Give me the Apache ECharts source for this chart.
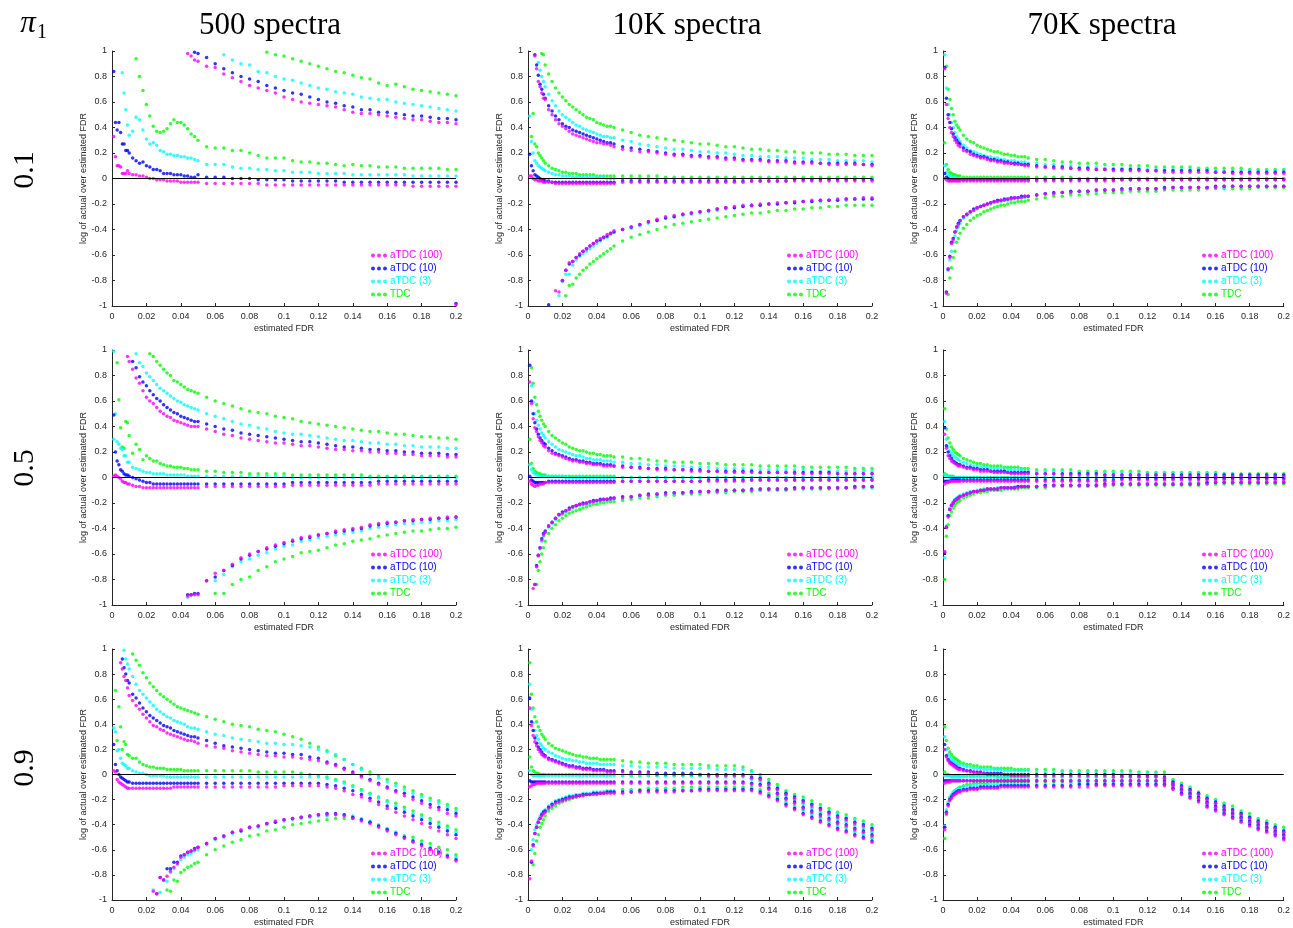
<!DOCTYPE html>
<html>
<head>
<meta charset="utf-8">
<title>log of actual over estimated FDR</title>
<script src="https://cdn.jsdelivr.net/npm/echarts@6/dist/echarts.min.js"></script>
<style>
  html, body { margin: 0; padding: 0; background: #fff; }
  #chart { width: 1293px; height: 928px; }
</style>
</head>
<body>
<div id="chart"></div>
<script>
const _ = null; // point outside the plotted range

// estimated FDR grid (thousandths)
const xGrid = [1,2,3,4,5,6,7,8,9,10,
  12,14,16,18,20,22,24,26,28,30,32,34,36,38,40,42,44,46,48,50,
  55,60,65,70,75,80,85,90,95,100,105,110,115,120,125,130,135,140,145,150,155,160,165,170,175,180,185,190,195,200];

// log of actual over estimated FDR (x100), per panel (row = pi1, col = spectra),
// per method (m = aTDC(100), b = aTDC(10), c = aTDC(3), g = TDC), per curve (hi / md / lo)

// ---- pi1 = 0.1, 500 spectra
const p11_m_hi = [_,_,_,_,_, _,_,_,_,_,  _,_,_,_,_, _,_,_,_,_, _,_,_,_,_, _,98,96,93,92,  88,87,82,79,76, 73,71,69,67,64, 62,60,59,58,57, 56,54,52,51,51, 50,49,48,47,46, 46,45,44,44,43];
const p11_m_md = [33,17,10,10,9, 4,4,4,6,4,  3,3,2,2,1, 0,0,-1,-1,-1, -2,-2,-2,-2,-3, -3,-3,-3,-3,-3,  -4,-4,-4,-4,-4, -4,-4,-5,-5,-5, -5,-5,-5,-5,-5, -5,-5,-5,-5,-5, -5,-5,-5,-5,-6, -6,-6,-6,-6,-6];
const p11_m_lo = [_,_,_,_,_, _,_,_,_,_,  _,_,_,_,_, _,_,_,_,_, _,_,_,_,_, _,_,_,_,_,  _,_,_,_,_, _,_,_,_,_, _,_,_,_,_, _,_,_,_,_, _,_,_,_,_, _,_,_,_,-99];
const p11_b_hi = [_,_,_,_,_, _,_,_,_,_,  _,_,_,_,_, _,_,_,_,_, _,_,_,_,_, _,_,_,99,98,  95,90,86,83,80, 78,76,73,71,69, 67,66,64,62,60, 59,57,56,54,54, 52,52,51,50,49, 49,48,47,47,46];
const p11_b_md = [84,44,38,44,36, 27,27,22,22,20,  16,14,12,13,10, 9,7,7,6,4, 4,4,3,3,3, 2,2,1,1,3,  1,1,1,0,0, 0,-1,-1,-1,-1, -2,-2,-2,-2,-2, -2,-3,-3,-3,-3, -3,-3,-3,-3,-3, -3,-3,-3,-3,-3];
const p11_b_lo = [_,_,_,_,_, _,_,_,_,_,  _,_,_,_,_, _,_,_,_,_, _,_,_,_,_, _,_,_,_,_,  _,_,_,_,_, _,_,_,_,_, _,_,_,_,_, _,_,_,_,_, _,_,_,_,_, _,_,_,_,-98];
const p11_c_hi = [_,_,_,_,_, 83,_,_,_,_,  _,_,_,_,_, _,_,_,_,_, _,_,_,_,_, _,_,_,_,_,  _,_,97,93,90, 89,84,83,80,78, 77,75,73,71,70, 68,67,66,64,63, 62,62,60,59,58, 57,56,55,54,53];
const p11_c_md = [_,_,_,_,_, _,67,54,42,34,  37,48,46,38,31, 27,28,26,22,21, 19,19,18,18,17, 17,16,16,15,14,  11,11,11,9,8, 8,7,7,6,6, 5,5,5,4,4, 4,4,3,3,3, 3,3,3,3,2, 2,2,2,2,2];
const p11_c_lo = [];
const p11_g_hi = [_,_,_,_,_, _,_,_,_,_,  _,_,_,_,_, _,_,_,_,_, _,_,_,_,_, _,_,_,_,_,  _,_,_,_,_, _,_,99,97,96, 94,92,90,88,86, 84,83,81,79,78, 75,73,74,72,70, 69,68,67,66,65];
const p11_g_md = [_,_,_,_,_, _,_,_,_,_,  _,94,80,69,58, 49,41,37,36,37, 39,43,46,44,44, 42,39,35,33,30,  25,24,24,22,22, 20,18,16,16,16, 14,13,13,12,12, 11,10,11,10,10, 9,9,9,8,8, 8,8,8,7,7];
const p11_g_lo = [];

// ---- pi1 = 0.1, 10K spectra
const p12_m_hi = [_,_,_,96,86, 76,72,67,63,62,  54,50,46,43,41, 39,37,35,34,33, 32,31,30,29,28, 28,27,27,26,25,  23,22,21,21,20, 19,18,18,17,17, 16,16,15,15,14, 14,14,13,13,13, 12,12,12,12,11, 11,11,11,11,10];
const p12_m_md = [2,2,0,-1,-1, -2,-2,-2,-3,-3,  -3,-3,-4,-4,-4, -4,-4,-4,-4,-4, -4,-4,-4,-4,-4, -4,-4,-4,-4,-4,  -3,-3,-3,-3,-3, -3,-3,-3,-3,-3, -3,-3,-3,-3,-3, -2,-2,-2,-2,-2, -2,-2,-2,-2,-2, -2,-2,-2,-2,-2];
const p12_m_lo = [_,_,_,_,_, _,_,_,_,_,  _,_,-88,-89,-80, -72,-66,-65,-62,-59, -57,-55,-53,-51,-49, -47,-46,-44,-43,-41,  -40,-38,-36,-34,-32, -30,-29,-28,-27,-26, -25,-24,-23,-22,-21, -21,-20,-20,-19,-19, -18,-18,-17,-17,-17, -16,-16,-16,-15,-15];
const p12_b_hi = [_,_,_,97,89, 81,74,70,66,63,  57,53,49,46,43, 41,40,38,37,36, 35,34,33,32,31, 30,29,28,28,27,  25,24,23,22,21, 20,19,19,18,18, 17,17,16,16,15, 15,15,14,14,14, 13,13,13,12,12, 12,12,12,11,11];
const p12_b_md = [19,10,6,3,2, 1,0,-1,-1,-2,  -2,-3,-3,-3,-3, -3,-3,-3,-3,-3, -3,-3,-3,-3,-3, -3,-3,-3,-3,-3,  -2,-2,-2,-2,-2, -2,-2,-2,-2,-2, -2,-2,-2,-2,-2, -2,-2,-2,-2,-2, -1,-1,-1,-1,-1, -1,-1,-1,-1,-1];
const p12_b_lo = [_,_,_,_,_, _,_,_,_,_,  -99,_,_,_,-80, -72,-67,-65,-62,-60, -57,-55,-53,-51,-49, -48,-46,-45,-43,-42,  -40,-38,-36,-34,-33, -31,-30,-28,-27,-26, -25,-24,-23,-23,-22, -21,-21,-20,-20,-19, -19,-18,-18,-17,-17, -17,-16,-16,-16,-16];
const p12_c_hi = [_,_,_,_,_, 91,85,80,76,72,  66,61,57,53,50, 48,46,44,42,41, 39,38,37,36,35, 34,33,33,32,32,  30,29,27,26,25, 24,23,23,22,21, 21,20,20,19,18, 18,17,17,17,16, 16,16,15,15,15, 14,14,14,14,13];
const p12_c_md = [49,29,20,14,12, 10,9,8,7,6,  5,4,3,3,2, 2,2,1,1,1, 1,1,1,1,1, 1,1,0,0,0,  0,0,0,0,0, 0,0,0,0,0, 0,0,0,0,0, 0,0,0,0,0, 0,0,0,0,0, 0,0,0,0,0];
const p12_c_lo = [_,_,_,_,_, _,_,_,_,_,  _,_,_,-92,-81, -75,-75,-68,-64,-61, -59,-57,-55,-53,-51, -49,-47,-46,-44,-42,  -40,-39,-37,-35,-33, -31,-30,-29,-28,-27, -26,-25,-24,-23,-22, -22,-21,-20,-20,-19, -19,-18,-18,-18,-17, -17,-17,-16,-16,-16];
const p12_g_hi = [_,_,_,_,_, _,_,98,97,89,  82,76,71,67,64, 61,58,56,54,52, 50,48,47,46,44, 43,42,41,41,40,  38,36,34,33,32, 31,30,29,28,27, 27,26,25,25,24, 23,23,22,22,21, 21,20,20,20,19, 19,19,18,18,18];
const p12_g_md = [_,33,51,27,25, 20,18,16,14,12,  10,8,7,6,5, 5,4,4,4,3, 3,3,3,3,2, 2,2,2,2,2,  2,2,2,2,2, 1,1,1,1,1, 1,1,1,1,1, 1,1,1,1,1, 1,1,1,1,1, 1,1,1,1,1];
const p12_g_lo = [_,_,_,_,_, _,_,_,_,_,  _,_,_,_,_, -92,-84,-83,-78,-75, -72,-70,-67,-65,-63, -61,-59,-57,-55,-53,  -49,-46,-44,-42,-40, -38,-36,-35,-34,-33, -32,-31,-30,-29,-28, -27,-27,-26,-25,-25, -24,-24,-23,-23,-22, -22,-21,-21,-21,-21];

// ---- pi1 = 0.1, 70K spectra
const p13_m_hi = [86,58,47,40,36, 33,30,28,26,25,  22,21,19,18,17, 16,16,15,14,14, 13,13,12,12,12, 11,11,11,10,10,  9,9,8,8,8, 7,7,7,7,6, 6,6,6,6,6, 5,5,5,5,5, 5,5,5,4,4, 4,4,4,4,4];
const p13_m_md = [0,-1,-2,-2,-2, -2,-2,-2,-2,-2,  -2,-2,-2,-2,-2, -2,-2,-2,-2,-2, -2,-2,-2,-2,-2, -2,-2,-2,-2,-2,  -2,-2,-2,-2,-2, -2,-2,-2,-2,-2, -1,-1,-1,-1,-1, -1,-1,-1,-1,-1, -1,-1,-1,-1,-1, -1,-1,-1,-1,-1];
const p13_m_lo = [_,-90,-71,-62,-51, -48,-42,-38,-36,-33,  -30,-28,-26,-25,-23, -22,-21,-20,-19,-18, -18,-17,-17,-16,-16, -15,-15,-15,-14,-14,  -13,-12,-12,-11,-11, -10,-10,-9,-9,-9, -9,-8,-8,-8,-8, -8,-7,-7,-7,-7, -7,-7,-6,-6,-6, -6,-6,-6,-6,-6];
const p13_b_hi = [87,63,50,44,39, 35,32,30,28,27,  24,22,21,19,18, 17,17,16,15,15, 14,14,13,13,12, 12,12,11,11,11,  10,9,9,9,8, 8,8,7,7,7, 7,7,7,6,6, 6,6,6,6,6, 6,5,5,5,5, 5,5,5,5,5];
const p13_b_md = [4,1,0,-1,-1, -1,-1,-1,-1,-1,  -1,-1,-1,-1,-1, -1,-1,-1,-1,-1, -1,-1,-1,-1,-1, -1,-1,-1,-1,-1,  -1,-1,-1,-1,-1, -1,-1,-1,-1,-1, -1,-1,-1,-1,-1, -1,-1,-1,-1,-1, -1,-1,-1,-1,-1, -1,-1,-1,-1,-1];
const p13_b_lo = [_,-89,-71,-61,-50, -47,-42,-38,-35,-33,  -30,-28,-26,-24,-23, -22,-21,-20,-19,-18, -17,-17,-16,-16,-15, -15,-15,-14,-14,-14,  -13,-12,-11,-11,-10, -10,-10,-9,-9,-9, -8,-8,-8,-8,-8, -7,-7,-7,-7,-7, -7,-6,-6,-6,-6, -6,-6,-6,-6,-6];
const p13_c_hi = [97,71,58,50,44, 40,36,33,31,29,  26,24,22,21,20, 19,18,17,17,16, 16,15,15,14,14, 14,13,13,13,12,  12,11,11,10,10, 9,9,9,8,8, 8,8,8,7,7, 7,7,7,7,7, 7,6,6,6,6, 6,6,6,6,6];
const p13_c_md = [10,5,3,2,1, 1,1,0,0,0,  0,0,0,0,0, 0,0,0,0,0, 0,0,0,0,0, 0,0,0,0,0,  0,0,0,0,0, 0,0,0,0,0, 0,0,0,0,0, 0,0,0,0,0, 0,0,0,0,0, 0,0,0,0,0];
const p13_c_lo = [_,_,-72,-64,-57, -50,-45,-41,-38,-35,  -31,-29,-27,-25,-24, -22,-21,-20,-20,-19, -18,-18,-17,-17,-16, -16,-15,-15,-15,-14,  -13,-12,-12,-11,-11, -10,-10,-10,-9,-9, -9,-9,-8,-8,-8, -8,-7,-7,-7,-7, -7,-7,-7,-6,-6, -6,-6,-6,-6,-6];
const p13_g_hi = [_,88,70,62,55, 50,45,42,40,38,  34,31,29,28,26, 25,24,23,22,21, 21,20,19,19,18, 18,17,17,17,16,  15,15,14,13,13, 12,12,12,11,11, 11,10,10,10,9, 9,9,9,9,8, 8,8,8,8,8, 7,7,7,7,7];
const p13_g_md = [28,11,7,5,4, 3,3,2,2,2,  1,1,1,1,1, 1,1,1,1,1, 1,1,1,1,1, 1,1,1,1,1,  1,1,1,1,1, 0,0,0,0,0, 0,0,0,0,0, 0,0,0,0,0, 0,0,0,0,0, 0,0,0,0,0];
const p13_g_lo = [_,_,-91,-78,-70, -62,-57,-50,-47,-43,  -39,-36,-33,-31,-29, -28,-26,-25,-24,-23, -22,-21,-21,-20,-19, -19,-18,-18,-18,-17,  -16,-15,-14,-14,-13, -13,-12,-12,-11,-11, -11,-10,-10,-10,-10, -9,-9,-9,-9,-9, -8,-8,-8,-8,-8, -8,-7,-7,-7,-7];

// ---- pi1 = 0.5, 500 spectra
const p21_m_hi = [_,_,_,_,_, _,_,_,95,91,  85,78,74,68,63, 60,58,55,52,50, 48,47,45,44,43, 42,41,40,40,40,  38,36,34,33,31, 30,29,28,27,27, 26,25,25,24,23, 22,22,21,21,20, 20,19,19,18,18, 17,17,17,16,16];
const p21_m_md = [1,2,1,0,-1, -3,-4,-4,-5,-5,  -6,-7,-7,-8,-8, -8,-8,-8,-8,-8, -8,-8,-8,-8,-8, -8,-8,-8,-8,-8,  -7,-7,-7,-7,-7, -7,-7,-7,-7,-7, -6,-6,-6,-6,-6, -6,-6,-6,-6,-6, -5,-5,-5,-5,-5, -5,-5,-5,-5,-5];
const p21_m_lo = [_,_,_,_,_, _,_,_,_,_,  _,_,_,_,_, _,_,_,_,_, _,_,_,_,_, _,-93,-92,-92,-92,  -81,-75,-73,-68,-63, -60,-58,-55,-53,-51, -49,-47,-46,-45,-44, -42,-41,-40,-39,-37, -36,-35,-35,-34,-33, -33,-32,-32,-31,-31];
const p21_b_hi = [_,_,_,_,_, _,_,_,_,_,  91,86,79,75,72, 68,65,62,60,57, 55,53,51,50,48, 47,46,45,44,44,  42,40,38,37,35, 34,33,32,31,30, 29,28,28,27,26, 25,24,24,23,22, 22,21,21,20,20, 19,19,19,18,18];
const p21_b_md = [49,20,13,10,6, 5,3,2,2,1,  0,-1,-2,-3,-4, -4,-5,-5,-5,-5, -5,-5,-5,-5,-5, -5,-5,-5,-5,-5,  -5,-5,-5,-5,-5, -5,-5,-5,-5,-5, -4,-4,-4,-4,-4, -4,-4,-4,-4,-4, -3,-3,-3,-3,-3, -3,-3,-3,-3,-3];
const p21_b_lo = [_,_,_,_,_, _,_,_,_,_,  _,_,_,_,_, _,_,_,_,_, _,_,_,_,_, _,-92,-92,-91,-91,  -81,-78,-73,-69,-64, -61,-58,-56,-54,-52, -50,-48,-47,-45,-44, -43,-42,-41,-40,-38, -37,-36,-35,-34,-34, -33,-33,-32,-32,-31];
const p21_c_hi = [99,_,_,_,_, _,_,_,_,_,  _,97,90,87,82, 79,76,73,70,68, 66,64,62,60,59, 57,56,55,54,53,  50,48,46,44,42, 41,39,38,36,35, 34,34,33,32,31, 30,29,29,28,27, 27,26,26,25,25, 24,24,24,23,23];
const p21_c_md = [30,50,28,26,23, 22,17,17,12,12,  8,7,6,5,4, 4,3,3,3,3, 2,2,2,2,2, 2,1,1,1,1,  1,1,1,1,1, 1,1,1,1,1, 0,0,0,0,0, 0,0,0,0,0, 0,0,0,0,0, 0,0,0,0,0];
const p21_c_lo = [_,_,_,_,_, _,_,_,_,_,  _,_,_,_,_, _,_,_,_,_, _,_,_,_,_, _,-94,-92,_,_,  _,-81,-76,-70,-66, -64,-61,-59,-56,-54, -53,-50,-49,-47,-46, -45,-44,-43,-42,-40, -39,-38,-37,-36,-36, -35,-35,-34,-34,-33];
const p21_g_hi = [_,_,_,_,_, _,_,_,_,_,  _,_,_,_,_, 97,95,91,88,85, 82,80,76,75,73, 71,69,68,67,66,  63,60,58,56,54, 52,51,50,48,47, 46,44,43,42,41, 40,39,38,37,36, 36,35,34,34,33, 32,32,31,31,30];
const p21_g_md = [_,_,90,61,39, 24,23,44,43,33,  19,26,22,14,17, 15,13,13,11,10, 9,9,8,8,8, 7,7,6,6,6,  5,5,4,4,4, 3,3,3,3,3, 2,2,2,2,2, 2,2,2,2,1, 1,1,1,1,1, 1,1,1,1,1];
const p21_g_lo = [_,_,_,_,_, _,_,_,_,_,  _,_,_,_,_, _,_,_,_,_, _,_,_,_,_, _,_,_,_,_,  _,-91,-91,-84,-80, -78,-73,-70,-66,-64, -62,-59,-58,-57,-55, -53,-52,-50,-49,-48, -46,-45,-44,-43,-42, -42,-41,-40,-40,-39];

// ---- pi1 = 0.5, 10K spectra
const p22_m_hi = [75,58,46,39,36, 32,29,27,25,24,  21,19,18,17,16, 15,14,13,13,12, 12,11,11,10,10, 10,9,9,9,9,  8,8,7,7,6, 6,6,6,5,5, 5,5,4,4,4, 4,4,4,4,4, 3,3,3,3,3, 3,3,3,3,3];
const p22_m_md = [-3,-5,-6,-7,-6, -6,-5,-5,-5,-4,  -4,-4,-4,-4,-4, -4,-4,-4,-4,-4, -4,-4,-4,-4,-4, -4,-4,-4,-4,-4,  -3,-3,-3,-3,-3, -3,-3,-3,-3,-3, -3,-3,-3,-3,-3, -2,-2,-2,-2,-2, -2,-2,-2,-2,-2, -2,-2,-2,-2,-2];
const p22_m_lo = [_,_,-87,-84,-70, -61,-55,-49,-45,-43,  -38,-35,-32,-29,-28, -26,-25,-23,-22,-21, -21,-20,-19,-19,-18, -18,-17,-17,-17,-16,  -16,-15,-14,-14,-13, -13,-12,-12,-12,-11, -11,-11,-10,-10,-10, -10,-9,-9,-9,-9, -9,-8,-8,-8,-8, -8,-8,-8,-7,-7];
const p22_b_hi = [88,60,50,43,38, 34,31,29,27,26,  23,21,19,18,17, 16,15,14,14,13, 13,12,12,11,11, 11,10,10,10,9,  9,8,8,7,7, 7,6,6,6,6, 5,5,5,5,5, 5,4,4,4,4, 4,4,4,4,4, 3,3,3,3,3];
const p22_b_md = [1,-2,-3,-4,-4, -4,-4,-4,-4,-4,  -3,-3,-3,-3,-3, -3,-3,-3,-3,-3, -3,-3,-3,-3,-3, -3,-3,-3,-3,-3,  -3,-3,-3,-3,-3, -3,-3,-3,-3,-3, -2,-2,-2,-2,-2, -2,-2,-2,-2,-2, -2,-2,-2,-2,-2, -2,-2,-2,-2,-2];
const p22_b_lo = [_,_,_,-84,-69, -61,-55,-48,-44,-42,  -38,-35,-32,-29,-27, -26,-24,-23,-22,-21, -20,-20,-19,-18,-18, -17,-17,-17,-16,-16,  -15,-15,-14,-13,-13, -12,-12,-12,-11,-11, -11,-10,-10,-10,-10, -9,-9,-9,-9,-9, -8,-8,-8,-8,-8, -8,-8,-7,-7,-7];
const p22_c_hi = [_,72,59,50,45, 41,38,35,33,31,  28,26,24,22,21, 20,19,18,17,17, 16,15,15,14,14, 14,13,13,13,12,  12,11,11,10,10, 9,9,9,8,8, 8,7,7,7,7, 6,6,6,6,6, 6,6,5,5,5, 5,5,5,5,5];
const p22_c_md = [10,6,4,3,2, 2,1,1,1,1,  1,1,1,1,1, 0,0,0,0,0, 0,0,0,0,0, 0,0,0,0,0,  0,0,0,0,0, 0,0,0,0,0, 0,0,0,0,0, 0,0,0,0,0, 0,0,0,0,0, 0,0,0,0,0];
const p22_c_lo = [_,_,_,_,-70, -62,-56,-50,-46,-43,  -39,-36,-33,-30,-29, -27,-25,-24,-23,-22, -21,-21,-20,-19,-19, -18,-18,-17,-17,-17,  -16,-15,-15,-14,-14, -13,-13,-12,-12,-12, -11,-11,-11,-10,-10, -10,-10,-9,-9,-9, -9,-9,-9,-8,-8, -8,-8,-8,-8,-8];
const p22_g_hi = [_,86,74,63,57, 52,48,45,42,40,  36,33,31,29,27, 26,24,23,22,21, 21,20,19,19,18, 18,17,17,17,16,  16,15,15,14,13, 13,12,12,12,11, 11,11,10,10,10, 10,9,9,9,9, 9,8,8,8,8, 8,8,7,7,7];
const p22_g_md = [30,11,7,5,4, 3,3,2,2,2,  1,1,1,1,1, 1,1,1,1,1, 1,1,1,1,1, 1,1,1,1,1,  0,0,0,0,0, 0,0,0,0,0, 0,0,0,0,0, 0,0,0,0,0, 0,0,0,0,0, 0,0,0,0,0];
const p22_g_lo = [_,_,_,_,-84, -73,-66,-60,-55,-50,  -44,-40,-37,-34,-32, -30,-28,-27,-26,-25, -24,-23,-22,-21,-21, -20,-20,-19,-19,-19,  -18,-17,-16,-16,-15, -14,-14,-13,-13,-13, -12,-12,-12,-11,-11, -11,-10,-10,-10,-10, -9,-9,-9,-9,-9, -9,-8,-8,-8,-8];

// ---- pi1 = 0.5, 70K spectra
const p23_m_hi = [34,23,17,15,13, 12,11,10,9,9,  8,7,7,6,6, 5,5,5,5,4, 4,4,4,4,3, 3,3,3,3,3,  3,3,3,2,2, 2,2,2,2,2, 2,2,2,2,2, 2,1,1,1,1, 1,1,1,1,1, 1,1,1,1,1];
const p23_m_md = [-5,-4,-4,-3,-3, -3,-3,-3,-3,-3,  -3,-3,-3,-3,-3, -3,-3,-3,-3,-3, -3,-3,-3,-3,-3, -3,-3,-3,-3,-3,  -3,-3,-3,-3,-3, -3,-3,-3,-3,-3, -2,-2,-2,-2,-2, -2,-2,-2,-2,-2, -2,-2,-2,-2,-2, -2,-2,-2,-2,-2];
const p23_m_lo = [-58,-39,-31,-25,-22, -20,-18,-17,-16,-15,  -14,-13,-12,-11,-11, -10,-10,-9,-9,-9, -9,-8,-8,-8,-8, -8,-8,-7,-7,-7,  -7,-7,-6,-6,-6, -6,-6,-6,-6,-5, -5,-5,-5,-5,-5, -5,-5,-5,-5,-5, -5,-4,-4,-4,-4, -4,-4,-4,-4,-4];
const p23_b_hi = [39,25,20,17,15, 13,12,11,10,10,  9,8,8,7,7, 6,6,6,5,5, 5,5,5,4,4, 4,4,4,4,4,  3,3,3,3,3, 3,3,3,2,2, 2,2,2,2,2, 2,2,2,2,2, 2,2,2,2,2, 2,2,2,2,2];
const p23_b_md = [-3,-3,-3,-3,-2, -2,-2,-2,-2,-2,  -2,-2,-2,-2,-2, -2,-2,-2,-2,-2, -2,-2,-2,-2,-2, -2,-2,-2,-2,-2,  -2,-2,-2,-2,-2, -2,-2,-2,-2,-2, -1,-1,-1,-1,-1, -1,-1,-1,-1,-1, -1,-1,-1,-1,-1, -1,-1,-1,-1,-1];
const p23_b_lo = [-59,-39,-30,-25,-22, -20,-18,-17,-16,-15,  -14,-13,-12,-11,-11, -10,-10,-9,-9,-9, -9,-8,-8,-8,-8, -8,-7,-7,-7,-7,  -7,-6,-6,-6,-6, -6,-6,-6,-5,-5, -5,-5,-5,-5,-5, -5,-5,-5,-5,-5, -4,-4,-4,-4,-4, -4,-4,-4,-4,-4];
const p23_c_hi = [44,30,24,21,19, 17,16,15,14,13,  12,11,10,9,9, 8,8,8,7,7, 7,7,6,6,6, 6,6,6,5,5,  5,5,5,5,4, 4,4,4,4,4, 4,4,3,3,3, 3,3,3,3,3, 3,3,3,3,2, 2,2,2,2,2];
const p23_c_md = [2,1,1,0,0, 0,0,0,0,0,  0,0,0,0,0, 0,0,0,0,0, 0,0,0,0,0, 0,0,0,0,0,  0,0,0,0,0, 0,0,0,0,0, 0,0,0,0,0, 0,0,0,0,0, 0,0,0,0,0, 0,0,0,0,0];
const p23_c_lo = [-63,-38,-30,-24,-21, -19,-17,-16,-15,-14,  -13,-12,-11,-11,-10, -10,-9,-9,-9,-9, -8,-8,-8,-8,-8, -7,-7,-7,-7,-7,  -7,-6,-6,-6,-6, -6,-6,-5,-5,-5, -5,-5,-5,-5,-5, -5,-5,-5,-4,-4, -4,-4,-4,-4,-4, -4,-4,-4,-4,-4];
const p23_g_hi = [54,38,31,27,24, 22,20,19,18,17,  15,14,13,12,11, 11,10,10,9,9, 9,9,8,8,8, 8,8,7,7,7,  6,6,6,6,6, 5,5,5,5,5, 5,5,5,4,4, 4,4,4,4,4, 4,4,3,3,3, 3,3,3,3,3];
const p23_g_md = [3,2,1,1,1, 1,0,0,0,0,  0,0,0,0,0, 0,0,0,0,0, 0,0,0,0,0, 0,0,0,0,0,  0,0,0,0,0, 0,0,0,0,0, 0,0,0,0,0, 0,0,0,0,0, 0,0,0,0,0, 0,0,0,0,0];
const p23_g_lo = [-80,-46,-37,-30,-27, -24,-22,-20,-19,-18,  -16,-15,-14,-13,-12, -12,-11,-11,-10,-10, -10,-10,-9,-9,-9, -9,-9,-8,-8,-8,  -8,-8,-7,-7,-7, -7,-7,-7,-7,-6, -6,-6,-6,-6,-6, -6,-6,-6,-6,-6, -5,-5,-5,-5,-5, -5,-5,-5,-5,-5];

// ---- pi1 = 0.9, 500 spectra
const p31_m_hi = [_,_,_,_,89, 84,78,75,69,63,  59,55,52,48,45, 42,39,38,36,35, 33,32,31,30,29, 28,27,27,26,25,  23,22,21,19,18, 17,16,15,15,14, 14,13,12,11,9, 7,4,1,-2,-5, -8,-11,-14,-17,-20, -23,-26,-28,-31,-33];
const p31_m_md = [3,2,-4,-6,-7, -8,-9,-10,-11,-11,  -11,-11,-11,-11,-11, -11,-11,-11,-11,-11, -11,-11,-10,-10,-10, -10,-10,-10,-10,-10,  -10,-10,-10,-10,-10, -10,-10,-10,-10,-9, -9,-9,-9,-9,-10, -11,-13,-16,-18,-21, -24,-27,-30,-33,-36, -39,-42,-45,-48,-51];
const p31_m_lo = [_,_,_,_,_, _,_,_,_,_,  _,_,_,_,_, _,-93,-95,-82,-84, -81,-77,-74,-71,-66, -64,-62,-61,-60,-58,  -55,-51,-49,-46,-44, -42,-41,-39,-37,-36, -35,-34,-33,-32,-32, -32,-33,-35,-37,-39, -42,-45,-48,-51,-54, -57,-60,-63,-66,-69];
const p31_b_hi = [_,_,_,_,_, 92,85,80,75,73,  64,61,57,53,50, 47,45,43,41,39, 38,37,35,34,33, 32,31,30,30,29,  27,25,23,22,21, 20,19,18,17,17, 16,16,14,13,10, 8,5,2,-1,-4, -7,-10,-13,-15,-18, -21,-24,-26,-28,-31];
const p31_b_md = [24,8,3,0,-2, -3,-4,-5,-6,-6,  -7,-7,-7,-7,-7, -7,-7,-7,-7,-7, -7,-7,-7,-7,-7, -7,-7,-7,-7,-7,  -7,-7,-7,-7,-7, -7,-7,-7,-7,-7, -7,-7,-7,-7,-8, -9,-11,-13,-16,-19, -22,-25,-27,-30,-33, -36,-39,-42,-45,-48];
const p31_b_lo = [_,_,_,_,_, _,_,_,_,_,  _,_,_,_,_, _,_,-95,-82,-84, -75,-75,-70,-70,-65, -64,-62,-61,-59,-58,  -55,-51,-49,-46,-45, -42,-41,-39,-38,-36, -35,-34,-33,-32,-31, -31,-32,-34,-36,-38, -41,-44,-47,-50,-53, -56,-59,-62,-65,-68];
const p31_c_hi = [_,_,_,_,_, _,99,92,88,84,  78,72,67,64,61, 58,55,52,50,48, 46,45,43,42,41, 40,38,37,37,36,  34,32,31,29,28, 27,26,25,25,24, 24,23,22,20,18, 16,12,8,4,0, -3,-6,-9,-12,-15, -18,-21,-23,-26,-29];
const p31_c_md = [37,34,19,20,13, 9,8,7,5,5,  3,2,1,1,0, -1,-1,-1,-1,-1, -2,-2,-2,-2,-2, -2,-2,-2,-2,-2,  -2,-2,-2,-2,-2, -2,-2,-2,-2,-2, -2,-2,-2,-2,-3, -5,-7,-10,-13,-16, -19,-22,-25,-28,-31, -34,-37,-40,-43,-46];
const p31_c_lo = [_,_,_,_,_, _,_,_,_,_,  _,_,_,_,_, _,-92,_,-94,_, -85,-78,-75,-72,-68, -66,-64,-63,-61,-60,  -56,-52,-50,-47,-45, -43,-42,-40,-38,-37, -36,-35,-34,-33,-33, -32,-32,-33,-35,-37, -40,-43,-46,-49,-52, -55,-58,-61,-64,-66];
const p31_g_hi = [_,_,_,_,_, _,_,_,_,_,  96,91,87,81,77, 73,70,67,64,62, 60,58,56,54,53, 52,51,50,49,48,  46,44,42,40,39, 38,36,35,34,32, 30,28,25,22,19, 15,12,8,5,2, -1,-4,-7,-10,-13, -16,-19,-21,-24,-27];
const p31_g_md = [_,67,27,54,38, 20,26,24,16,15,  13,13,10,8,7, 6,6,5,5,5, 4,4,4,4,4, 3,3,3,3,3,  3,3,3,3,3, 3,2,2,2,2, 2,1,0,-1,-2, -4,-6,-9,-12,-15, -18,-21,-23,-26,-29, -32,-35,-38,-41,-44];
const p31_g_lo = [_,_,_,_,_, _,_,_,_,_,  _,_,_,_,_, _,_,_,_,_, -92,-93,-84,-85,-78, -76,-74,-73,-71,-70,  -64,-60,-57,-54,-52, -49,-48,-45,-44,-42, -40,-39,-38,-37,-36, -35,-35,-35,-36,-38, -41,-43,-46,-49,-50, -53,-55,-58,-60,-64];

// ---- pi1 = 0.9, 10K spectra
const p32_m_hi = [53,39,31,26,23, 20,18,16,15,14,  12,11,10,9,8, 7,6,6,5,5, 4,4,4,3,3, 3,3,2,2,2,  2,1,1,1,0, 0,0,0,0,0, -1,-1,-1,-1,-1, -3,-4,-8,-12,-16, -19,-22,-25,-28,-31, -34,-36,-39,-41,-44];
const p32_m_md = [-10,-9,-8,-8,-7, -7,-7,-7,-7,-7,  -7,-7,-7,-7,-7, -7,-7,-7,-7,-7, -7,-7,-7,-7,-7, -7,-7,-7,-7,-7,  -7,-7,-7,-7,-7, -7,-7,-7,-7,-7, -7,-7,-7,-7,-7, -8,-9,-12,-16,-20, -23,-27,-30,-33,-36, -39,-41,-44,-46,-49];
const p32_m_lo = [-83,-69,-57,-47,-42, -38,-35,-33,-31,-30,  -27,-25,-23,-22,-21, -20,-19,-18,-18,-17, -17,-16,-16,-16,-16, -15,-15,-15,-15,-15,  -15,-14,-14,-14,-14, -14,-14,-13,-13,-13, -13,-13,-13,-13,-13, -13,-15,-18,-21,-25, -28,-32,-35,-38,-41, -44,-46,-49,-51,-54];
const p32_b_hi = [61,42,35,29,25, 22,20,18,16,15,  13,12,11,10,9, 8,7,7,6,6, 5,5,5,4,4, 4,4,3,3,3,  3,2,2,2,1, 1,1,1,1,0, 0,0,0,0,0, -2,-3,-7,-11,-15, -18,-21,-24,-27,-30, -33,-35,-38,-40,-43];
const p32_b_md = [-5,-6,-6,-6,-6, -6,-6,-6,-6,-6,  -6,-6,-6,-6,-6, -6,-6,-6,-6,-6, -6,-6,-6,-6,-6, -6,-6,-6,-6,-6,  -6,-6,-6,-6,-6, -6,-6,-6,-6,-6, -6,-6,-6,-6,-6, -7,-8,-11,-15,-19, -22,-26,-29,-32,-35, -38,-40,-43,-45,-48];
const p32_b_lo = [_,-70,-56,-47,-42, -38,-35,-32,-30,-29,  -26,-24,-22,-21,-20, -19,-18,-18,-17,-17, -16,-16,-16,-15,-15, -15,-15,-14,-14,-14,  -14,-14,-13,-13,-13, -13,-13,-13,-13,-12, -12,-12,-12,-12,-12, -12,-14,-17,-20,-24, -27,-31,-34,-37,-40, -43,-45,-48,-50,-53];
const p32_c_hi = [72,52,41,35,31, 28,25,23,21,20,  18,17,15,14,13, 12,12,11,11,10, 10,9,9,9,9, 8,8,8,8,8,  7,7,6,6,6, 6,5,5,5,5, 5,4,4,4,4, 2,-2,-6,-10,-14, -17,-20,-23,-26,-29, -31,-34,-36,-39,-42];
const p32_c_md = [3,0,-1,-1,-1, -1,-1,-1,-1,-1,  -1,-1,-1,-1,-1, -1,-1,-1,-1,-1, -1,-1,-1,-1,-1, -1,-1,-1,-1,-1,  -1,-1,-1,-1,-1, -1,-1,-1,-1,-1, -2,-2,-2,-2,-2, -4,-6,-10,-13,-17, -21,-24,-27,-30,-33, -36,-38,-41,-43,-46];
const p32_c_lo = [_,-60,-52,-44,-40, -36,-33,-31,-29,-28,  -25,-23,-21,-20,-19, -18,-17,-17,-16,-16, -15,-15,-15,-14,-14, -14,-14,-13,-13,-13,  -13,-13,-13,-12,-12, -12,-12,-12,-12,-11, -11,-11,-11,-11,-11, -11,-13,-16,-19,-23, -26,-29,-32,-35,-38, -41,-43,-46,-48,-51];
const p32_g_hi = [89,64,53,46,42, 38,35,32,30,28,  25,23,21,20,19, 18,17,16,15,15, 14,14,13,13,13, 12,12,12,12,12,  11,10,10,9,9, 9,8,8,8,8, 7,7,7,7,6, 3,0,-4,-8,-13, -16,-18,-21,-24,-27, -30,-32,-35,-37,-40];
const p32_g_md = [14,6,3,2,1, 1,0,0,0,0,  0,0,0,0,0, 0,0,0,0,0, 0,0,0,0,0, 0,0,0,0,0,  -1,-1,-1,-1,-1, -1,-1,-1,-1,-1, -1,-1,-1,-1,-1, -3,-5,-9,-12,-16, -20,-23,-26,-29,-32, -35,-37,-40,-42,-45];
const p32_g_lo = [_,_,-72,-63,-53, -48,-42,-39,-36,-33,  -29,-27,-25,-23,-22, -21,-20,-19,-18,-17, -17,-16,-16,-15,-15, -15,-14,-14,-14,-14,  -12,-12,-12,-11,-11, -11,-11,-10,-10,-10, -10,-10,-10,-10,-10, -10,-12,-15,-18,-22, -25,-28,-31,-34,-37, -40,-42,-45,-47,-50];

// ---- pi1 = 0.9, 70K spectra
const p33_m_hi = [20,14,11,9,8, 7,6,5,4,4,  3,3,2,2,1, 1,1,0,0,0, 0,0,0,0,-1, -1,-1,-1,-1,-1,  -1,-1,-1,-1,-1, -1,-1,-1,-1,-2, -2,-2,-2,-2,-2, -3,-7,-10,-13,-16, -20,-23,-26,-29,-32, -35,-38,-40,-43,-46];
const p33_m_md = [-7,-6,-6,-6,-5, -5,-5,-5,-5,-5,  -5,-5,-5,-5,-5, -5,-5,-5,-5,-5, -5,-5,-5,-5,-5, -5,-5,-5,-5,-5,  -5,-5,-5,-5,-5, -5,-5,-5,-5,-5, -5,-5,-5,-5,-5, -6,-9,-13,-16,-19, -23,-26,-29,-32,-35, -38,-41,-43,-46,-49];
const p33_m_lo = [-44,-31,-25,-21,-19, -17,-16,-15,-14,-14,  -13,-13,-12,-12,-12, -11,-11,-11,-11,-11, -11,-10,-10,-10,-10, -10,-10,-10,-10,-10,  -10,-10,-10,-10,-10, -10,-10,-9,-9,-9, -9,-9,-9,-9,-9, -9,-12,-16,-19,-22, -26,-29,-32,-35,-38, -41,-44,-46,-49,-52];
const p33_b_hi = [24,15,12,10,9, 8,7,6,5,5,  4,3,3,2,2, 2,1,1,1,1, 1,1,0,0,0, 0,0,0,0,0,  0,0,0,0,0, 0,0,0,0,0, -1,-1,-1,-1,-1, -2,-6,-9,-12,-15, -19,-22,-25,-28,-31, -34,-37,-39,-42,-45];
const p33_b_md = [-5,-5,-5,-5,-5, -5,-5,-5,-5,-5,  -5,-5,-5,-5,-5, -5,-5,-5,-5,-5, -5,-5,-5,-5,-5, -5,-5,-5,-5,-5,  -5,-5,-5,-5,-5, -5,-5,-5,-5,-5, -5,-5,-5,-5,-5, -5,-8,-12,-15,-18, -22,-25,-28,-31,-34, -37,-40,-42,-45,-48];
const p33_b_lo = [-42,-30,-24,-20,-18, -16,-15,-14,-13,-13,  -12,-12,-11,-11,-11, -10,-10,-10,-10,-10, -10,-9,-9,-9,-9, -9,-9,-9,-9,-9,  -9,-9,-9,-9,-9, -8,-8,-8,-8,-8, -8,-8,-8,-8,-8, -8,-11,-15,-18,-21, -25,-28,-31,-34,-37, -40,-43,-45,-48,-51];
const p33_c_hi = [30,20,16,14,12, 11,10,9,8,8,  7,6,6,5,5, 5,4,4,4,4, 4,4,3,3,3, 3,3,3,3,3,  2,2,2,2,2, 2,2,2,1,1, 1,1,1,1,1, 0,-5,-8,-11,-15, -18,-21,-24,-27,-30, -33,-36,-38,-41,-44];
const p33_c_md = [-1,-1,-1,-1,-2, -2,-2,-2,-2,-2,  -2,-2,-2,-2,-2, -2,-2,-2,-2,-2, -2,-2,-2,-2,-2, -2,-2,-2,-2,-2,  -2,-2,-2,-2,-2, -2,-2,-2,-2,-2, -2,-2,-2,-2,-2, -4,-7,-11,-14,-17, -21,-24,-27,-30,-33, -36,-39,-41,-44,-47];
const p33_c_lo = [-41,-28,-22,-18,-16, -14,-13,-12,-11,-11,  -10,-10,-9,-9,-9, -9,-9,-8,-8,-8, -8,-8,-8,-8,-8, -8,-8,-8,-8,-8,  -8,-8,-8,-8,-7, -7,-7,-7,-7,-7, -7,-7,-7,-7,-7, -7,-10,-14,-17,-20, -24,-27,-30,-33,-36, -39,-42,-44,-47,-50];
const p33_g_hi = [38,27,21,18,16, 14,13,12,11,10,  9,8,8,7,7, 6,6,6,6,5, 5,5,5,5,5, 4,4,4,4,4,  4,4,4,3,3, 3,3,3,3,3, 3,3,2,2,2, 2,-4,-7,-10,-14, -17,-20,-23,-25,-29, -31,-35,-37,-40,-42];
const p33_g_md = [2,0,0,-1,-1, -1,-1,-1,-1,-1,  -1,-1,-1,-1,-1, -1,-1,-1,-1,-1, -2,-2,-2,-2,-2, -2,-2,-2,-2,-2,  -2,-2,-2,-2,-2, -2,-2,-2,-2,-2, -2,-2,-2,-2,-2, -3,-6,-10,-13,-16, -20,-23,-26,-29,-32, -35,-38,-40,-43,-46];
const p33_g_lo = [-51,-32,-24,-19,-17, -15,-13,-12,-11,-10,  -9,-8,-8,-7,-7, -7,-7,-7,-6,-6, -6,-6,-6,-6,-6, -6,-6,-6,-6,-6,  -6,-6,-6,-6,-6, -6,-6,-6,-6,-6, -6,-6,-6,-6,-6, -6,-9,-13,-16,-19, -23,-26,-29,-32,-35, -38,-41,-43,-46,-49];

const methods = ['aTDC (100)', 'aTDC (10)', 'aTDC (3)', 'TDC'];
const colors = ['#ff00ff', '#0000ff', '#00ffff', '#00ff00'];
const colTitles = ['500 spectra', '10K spectra', '70K spectra'];
const rowTitles = ['0.1', '0.5', '0.9'];

// panels[row][col] -> [m, b, c, g], each [hi, md, lo]
const panels = [
  [
    [[p11_m_hi, p11_m_md, p11_m_lo], [p11_b_hi, p11_b_md, p11_b_lo], [p11_c_hi, p11_c_md, p11_c_lo], [p11_g_hi, p11_g_md, p11_g_lo]],
    [[p12_m_hi, p12_m_md, p12_m_lo], [p12_b_hi, p12_b_md, p12_b_lo], [p12_c_hi, p12_c_md, p12_c_lo], [p12_g_hi, p12_g_md, p12_g_lo]],
    [[p13_m_hi, p13_m_md, p13_m_lo], [p13_b_hi, p13_b_md, p13_b_lo], [p13_c_hi, p13_c_md, p13_c_lo], [p13_g_hi, p13_g_md, p13_g_lo]]
  ],
  [
    [[p21_m_hi, p21_m_md, p21_m_lo], [p21_b_hi, p21_b_md, p21_b_lo], [p21_c_hi, p21_c_md, p21_c_lo], [p21_g_hi, p21_g_md, p21_g_lo]],
    [[p22_m_hi, p22_m_md, p22_m_lo], [p22_b_hi, p22_b_md, p22_b_lo], [p22_c_hi, p22_c_md, p22_c_lo], [p22_g_hi, p22_g_md, p22_g_lo]],
    [[p23_m_hi, p23_m_md, p23_m_lo], [p23_b_hi, p23_b_md, p23_b_lo], [p23_c_hi, p23_c_md, p23_c_lo], [p23_g_hi, p23_g_md, p23_g_lo]]
  ],
  [
    [[p31_m_hi, p31_m_md, p31_m_lo], [p31_b_hi, p31_b_md, p31_b_lo], [p31_c_hi, p31_c_md, p31_c_lo], [p31_g_hi, p31_g_md, p31_g_lo]],
    [[p32_m_hi, p32_m_md, p32_m_lo], [p32_b_hi, p32_b_md, p32_b_lo], [p32_c_hi, p32_c_md, p32_c_lo], [p32_g_hi, p32_g_md, p32_g_lo]],
    [[p33_m_hi, p33_m_md, p33_m_lo], [p33_b_hi, p33_b_md, p33_b_lo], [p33_c_hi, p33_c_md, p33_c_lo], [p33_g_hi, p33_g_md, p33_g_lo]]
  ]
];

const gridLeft = [112, 528, 943];
const gridTop = [51, 350, 649];
const gridW = 344, gridH = 255;
const sans = '"Liberation Sans", Arial, Helvetica, sans-serif';
const serif = '"Liberation Serif", "DejaVu Serif", serif';
const axisColor = '#262626';
const dotsIcon = 'path://M0,2a2,2 0 1,0 4,0a2,2 0 1,0 -4,0M6,2a2,2 0 1,0 4,0a2,2 0 1,0 -4,0M12,2a2,2 0 1,0 4,0a2,2 0 1,0 -4,0';

// turn the three curves of one method into scatter points
function toPoints(curves) {
  const pts = [];
  curves.forEach(curve => {
    for (let i = 0; i < curve.length; i++) {
      if (curve[i] !== null && curve[i] !== undefined) pts.push([xGrid[i] / 1000, curve[i] / 100]);
    }
  });
  return pts;
}

const grid = [], xAxis = [], yAxis = [], series = [], legend = [];

for (let r = 0; r < 3; r++) {
  for (let c = 0; c < 3; c++) {
    const idx = grid.length;
    grid.push({ left: gridLeft[c], top: gridTop[r], width: gridW, height: gridH });

    xAxis.push({
      gridIndex: idx, type: 'value', min: 0, max: 0.2, interval: 0.02,
      name: 'estimated FDR', nameLocation: 'middle', nameGap: 18,
      nameTextStyle: { fontSize: 9, color: axisColor, fontFamily: sans },
      axisLine: { onZero: false, lineStyle: { color: axisColor, width: 1 } },
      axisTick: { inside: true, length: 3, lineStyle: { color: axisColor } },
      axisLabel: { fontSize: 9, color: axisColor, fontFamily: sans, margin: 6 },
      splitLine: { show: false }
    });
    yAxis.push({
      gridIndex: idx, type: 'value', min: -1, max: 1, interval: 0.2,
      name: 'log of actual over estimated FDR', nameLocation: 'middle', nameGap: 19,
      nameTextStyle: { fontSize: 9, color: axisColor, fontFamily: sans },
      axisLine: { onZero: false, lineStyle: { color: axisColor, width: 1 } },
      axisTick: { inside: true, length: 3, lineStyle: { color: axisColor } },
      axisLabel: { fontSize: 9, color: axisColor, fontFamily: sans, margin: 5 },
      splitLine: { show: false }
    });

    // draw TDC first, aTDC (100) last so magenta sits on top
    [3, 2, 1, 0].forEach(k => {
      const s = {
        name: methods[k], type: 'scatter',
        xAxisIndex: idx, yAxisIndex: idx,
        symbol: 'circle', symbolSize: 3.5,
        itemStyle: { color: colors[k] },
        silent: true,
        data: toPoints(panels[r][c][k])
      };
      if (k === 0) {
        s.markLine = {
          silent: true, symbol: 'none', label: { show: false },
          lineStyle: { color: '#000', width: 1, type: 'solid' },
          data: [{ yAxis: 0 }]
        };
      }
      series.push(s);
    });

    legend.push({
      orient: 'vertical', left: gridLeft[c] + 254, top: gridTop[r] + 194,
      itemWidth: 16, itemHeight: 4, itemGap: 2,
      icon: dotsIcon, selectedMode: false,
      textStyle: { fontSize: 10, fontFamily: sans, lineHeight: 11, padding: [0, 0, 0, -2] },
      data: methods.map((n, k) => ({ name: n, textStyle: { color: colors[k] } }))
    });
  }
}

const graphic = [];
const colCenter = [270, 687, 1102];
colTitles.forEach((t, c) => graphic.push({
  type: 'text', x: colCenter[c], y: 26,
  style: { text: t, font: '31px ' + serif, fill: '#000', align: 'center', verticalAlign: 'middle' }
}));
const rowCenter = [170, 468, 768];
rowTitles.forEach((t, r) => graphic.push({
  type: 'text', x: 25, y: rowCenter[r], rotation: Math.PI / 2,
  style: { text: t, font: '30px ' + serif, fill: '#000', align: 'center', verticalAlign: 'middle' }
}));
graphic.push({ type: 'text', x: 28, y: 24, style: { text: 'π', font: 'italic 31px ' + serif, fill: '#000', align: 'center', verticalAlign: 'middle' } });
graphic.push({ type: 'text', x: 42, y: 33, style: { text: '1', font: '20px ' + serif, fill: '#000', align: 'center', verticalAlign: 'middle' } });

const chart = echarts.init(document.getElementById('chart'));
chart.setOption({
  animation: false,
  backgroundColor: '#fff',
  grid, xAxis, yAxis, series, legend, graphic
});
window.addEventListener('resize', () => chart.resize());
</script>
</body>
</html>
